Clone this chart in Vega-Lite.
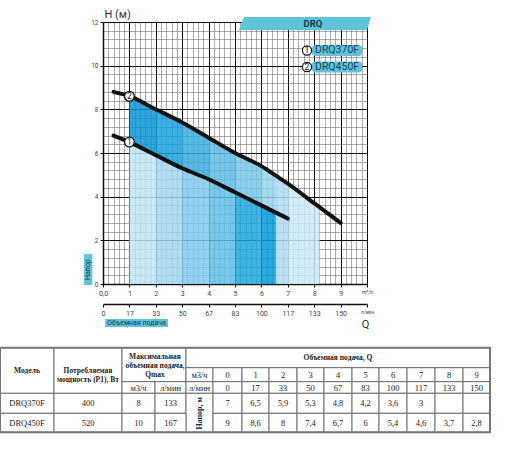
{
  "$schema": "https://vega.github.io/schema/vega-lite/v6.json",
  "width": 264,
  "height": 262,
  "autosize": {"type": "none"},
  "padding": {"left": 103, "top": 22, "right": 145, "bottom": 168},
  "background": "white",
  "config": {"view": {"stroke": null}, "text": {"font": "Roboto"}},
  "datasets": {
    "curves": [
      {"model": "DRQ370F", "q": 0.4, "h": 6.8},
      {"model": "DRQ370F", "q": 1, "h": 6.5},
      {"model": "DRQ370F", "q": 2, "h": 5.9},
      {"model": "DRQ370F", "q": 3, "h": 5.3},
      {"model": "DRQ370F", "q": 4, "h": 4.8},
      {"model": "DRQ370F", "q": 5, "h": 4.2},
      {"model": "DRQ370F", "q": 6, "h": 3.6},
      {"model": "DRQ370F", "q": 6.55, "h": 3.27},
      {"model": "DRQ370F", "q": 7, "h": 3},
      {"model": "DRQ450F", "q": 0.4, "h": 8.8},
      {"model": "DRQ450F", "q": 1, "h": 8.6},
      {"model": "DRQ450F", "q": 2, "h": 8},
      {"model": "DRQ450F", "q": 3, "h": 7.4},
      {"model": "DRQ450F", "q": 4, "h": 6.7},
      {"model": "DRQ450F", "q": 5, "h": 6},
      {"model": "DRQ450F", "q": 6, "h": 5.4},
      {"model": "DRQ450F", "q": 6.55, "h": 4.96},
      {"model": "DRQ450F", "q": 7, "h": 4.6},
      {"model": "DRQ450F", "q": 8, "h": 3.7},
      {"model": "DRQ450F", "q": 8.2, "h": 3.52},
      {"model": "DRQ450F", "q": 9, "h": 2.8}
    ],
    "models": [
      {"model": "DRQ370F", "num": "1"},
      {"model": "DRQ450F", "num": "2"}
    ],
    "labels": [
      {"id": "series", "t": "DRQ"},
      {"id": "ytitle", "t": "Напор"},
      {"id": "xtitle", "t": "Объемная подача"}
    ],
    "cells": [
      {"c0": 0, "c1": 1, "r0": 0, "r1": 3, "x": 0.5, "y": 1.2, "t": "Модель", "k": "h"},
      {"c0": 1, "c1": 2, "r0": 0, "r1": 3, "x": 1.5, "y": 1.2, "t": "Потребляемая\nмощность (P1), Вт", "k": "h"},
      {"c0": 2, "c1": 4, "r0": 0, "r1": 2, "x": 3, "y": 0.45, "t": "Максимальная\nобъемная подача,\nQmax", "k": "h"},
      {"c0": 4, "c1": 15, "r0": 0, "r1": 1, "x": 9.5, "y": 0.5, "t": "Объемная подача, Q", "k": "h"},
      {"c0": 2, "c1": 3, "r0": 2, "r1": 3, "x": 2.5, "y": 2.5, "t": "м3/ч", "k": "v"},
      {"c0": 3, "c1": 4, "r0": 2, "r1": 3, "x": 3.5, "y": 2.5, "t": "л/мин", "k": "v"},
      {"c0": 4, "c1": 5, "r0": 1, "r1": 2, "x": 4.5, "y": 1.5, "t": "м3/ч", "k": "v"},
      {"c0": 4, "c1": 5, "r0": 2, "r1": 3, "x": 4.5, "y": 2.5, "t": "л/мин", "k": "v"},
      {"c0": 5, "c1": 6, "r0": 1, "r1": 2, "x": 5.5, "y": 1.5, "t": "0", "k": "v"},
      {"c0": 6, "c1": 7, "r0": 1, "r1": 2, "x": 6.5, "y": 1.5, "t": "1", "k": "v"},
      {"c0": 7, "c1": 8, "r0": 1, "r1": 2, "x": 7.5, "y": 1.5, "t": "2", "k": "v"},
      {"c0": 8, "c1": 9, "r0": 1, "r1": 2, "x": 8.5, "y": 1.5, "t": "3", "k": "v"},
      {"c0": 9, "c1": 10, "r0": 1, "r1": 2, "x": 9.5, "y": 1.5, "t": "4", "k": "v"},
      {"c0": 10, "c1": 11, "r0": 1, "r1": 2, "x": 10.5, "y": 1.5, "t": "5", "k": "v"},
      {"c0": 11, "c1": 12, "r0": 1, "r1": 2, "x": 11.5, "y": 1.5, "t": "6", "k": "v"},
      {"c0": 12, "c1": 13, "r0": 1, "r1": 2, "x": 12.5, "y": 1.5, "t": "7", "k": "v"},
      {"c0": 13, "c1": 14, "r0": 1, "r1": 2, "x": 13.5, "y": 1.5, "t": "8", "k": "v"},
      {"c0": 14, "c1": 15, "r0": 1, "r1": 2, "x": 14.5, "y": 1.5, "t": "9", "k": "v"},
      {"c0": 5, "c1": 6, "r0": 2, "r1": 3, "x": 5.5, "y": 2.5, "t": "0", "k": "v"},
      {"c0": 6, "c1": 7, "r0": 2, "r1": 3, "x": 6.5, "y": 2.5, "t": "17", "k": "v"},
      {"c0": 7, "c1": 8, "r0": 2, "r1": 3, "x": 7.5, "y": 2.5, "t": "33", "k": "v"},
      {"c0": 8, "c1": 9, "r0": 2, "r1": 3, "x": 8.5, "y": 2.5, "t": "50", "k": "v"},
      {"c0": 9, "c1": 10, "r0": 2, "r1": 3, "x": 9.5, "y": 2.5, "t": "67", "k": "v"},
      {"c0": 10, "c1": 11, "r0": 2, "r1": 3, "x": 10.5, "y": 2.5, "t": "83", "k": "v"},
      {"c0": 11, "c1": 12, "r0": 2, "r1": 3, "x": 11.5, "y": 2.5, "t": "100", "k": "v"},
      {"c0": 12, "c1": 13, "r0": 2, "r1": 3, "x": 12.5, "y": 2.5, "t": "117", "k": "v"},
      {"c0": 13, "c1": 14, "r0": 2, "r1": 3, "x": 13.5, "y": 2.5, "t": "133", "k": "v"},
      {"c0": 14, "c1": 15, "r0": 2, "r1": 3, "x": 14.5, "y": 2.5, "t": "150", "k": "v"},
      {"c0": 0, "c1": 1, "r0": 3, "r1": 4, "x": 0.5, "y": 3.5, "t": "DRQ370F", "k": "v"},
      {"c0": 1, "c1": 2, "r0": 3, "r1": 4, "x": 1.5, "y": 3.5, "t": "400", "k": "v"},
      {"c0": 2, "c1": 3, "r0": 3, "r1": 4, "x": 2.5, "y": 3.5, "t": "8", "k": "v"},
      {"c0": 3, "c1": 4, "r0": 3, "r1": 4, "x": 3.5, "y": 3.5, "t": "133", "k": "v"},
      {"c0": 4, "c1": 5, "r0": 3, "r1": 5, "x": 4.5, "y": 4, "t": "Напор, м", "k": "r"},
      {"c0": 5, "c1": 6, "r0": 3, "r1": 4, "x": 5.5, "y": 3.5, "t": "7", "k": "v"},
      {"c0": 6, "c1": 7, "r0": 3, "r1": 4, "x": 6.5, "y": 3.5, "t": "6,5", "k": "v"},
      {"c0": 7, "c1": 8, "r0": 3, "r1": 4, "x": 7.5, "y": 3.5, "t": "5,9", "k": "v"},
      {"c0": 8, "c1": 9, "r0": 3, "r1": 4, "x": 8.5, "y": 3.5, "t": "5,3", "k": "v"},
      {"c0": 9, "c1": 10, "r0": 3, "r1": 4, "x": 9.5, "y": 3.5, "t": "4,8", "k": "v"},
      {"c0": 10, "c1": 11, "r0": 3, "r1": 4, "x": 10.5, "y": 3.5, "t": "4,2", "k": "v"},
      {"c0": 11, "c1": 12, "r0": 3, "r1": 4, "x": 11.5, "y": 3.5, "t": "3,6", "k": "v"},
      {"c0": 12, "c1": 13, "r0": 3, "r1": 4, "x": 12.5, "y": 3.5, "t": "3", "k": "v"},
      {"c0": 13, "c1": 14, "r0": 3, "r1": 4, "x": 13.5, "y": 3.5, "t": "", "k": "v"},
      {"c0": 14, "c1": 15, "r0": 3, "r1": 4, "x": 14.5, "y": 3.5, "t": "", "k": "v"},
      {"c0": 0, "c1": 1, "r0": 4, "r1": 5, "x": 0.5, "y": 4.5, "t": "DRQ450F", "k": "v"},
      {"c0": 1, "c1": 2, "r0": 4, "r1": 5, "x": 1.5, "y": 4.5, "t": "520", "k": "v"},
      {"c0": 2, "c1": 3, "r0": 4, "r1": 5, "x": 2.5, "y": 4.5, "t": "10", "k": "v"},
      {"c0": 3, "c1": 4, "r0": 4, "r1": 5, "x": 3.5, "y": 4.5, "t": "167", "k": "v"},
      {"c0": 5, "c1": 6, "r0": 4, "r1": 5, "x": 5.5, "y": 4.5, "t": "9", "k": "v"},
      {"c0": 6, "c1": 7, "r0": 4, "r1": 5, "x": 6.5, "y": 4.5, "t": "8,6", "k": "v"},
      {"c0": 7, "c1": 8, "r0": 4, "r1": 5, "x": 7.5, "y": 4.5, "t": "8", "k": "v"},
      {"c0": 8, "c1": 9, "r0": 4, "r1": 5, "x": 8.5, "y": 4.5, "t": "7,4", "k": "v"},
      {"c0": 9, "c1": 10, "r0": 4, "r1": 5, "x": 9.5, "y": 4.5, "t": "6,7", "k": "v"},
      {"c0": 10, "c1": 11, "r0": 4, "r1": 5, "x": 10.5, "y": 4.5, "t": "6", "k": "v"},
      {"c0": 11, "c1": 12, "r0": 4, "r1": 5, "x": 11.5, "y": 4.5, "t": "5,4", "k": "v"},
      {"c0": 12, "c1": 13, "r0": 4, "r1": 5, "x": 12.5, "y": 4.5, "t": "4,6", "k": "v"},
      {"c0": 13, "c1": 14, "r0": 4, "r1": 5, "x": 13.5, "y": 4.5, "t": "3,7", "k": "v"},
      {"c0": 14, "c1": 15, "r0": 4, "r1": 5, "x": 14.5, "y": 4.5, "t": "2,8", "k": "v"}
    ]
  },
  "layer": [
    {
      "resolve": {"axis": {"x": "independent", "y": "independent"}},
      "layer": [
        {
          "data": {"name": "curves"},
          "transform": [{"filter": "datum.model == 'DRQ370F' && datum.q >= 1 && datum.q <= 6.55"}],
          "mark": {
            "type": "area",
            "interpolate": "monotone",
            "fillOpacity": 0.85,
            "fill": {
              "gradient": "linear", "x1": 0, "y1": 0, "x2": 1, "y2": 0,
              "stops": [
                {"offset": 0, "color": "#bee4f4"}, {"offset": 0.1802, "color": "#bee4f4"},
                {"offset": 0.1802, "color": "#a1d6ee"}, {"offset": 0.3604, "color": "#a1d6ee"},
                {"offset": 0.3604, "color": "#81caeb"}, {"offset": 0.5405, "color": "#81caeb"},
                {"offset": 0.5405, "color": "#61bee6"}, {"offset": 0.7207, "color": "#61bee6"},
                {"offset": 0.7207, "color": "#1da7dd"}, {"offset": 0.9009, "color": "#1da7dd"},
                {"offset": 0.9009, "color": "#0499d7"}, {"offset": 1, "color": "#0499d7"}
              ]
            }
          },
          "encoding": {
            "x": {
              "field": "q", "type": "quantitative",
              "scale": {"domain": [0, 10], "nice": false, "zero": false},
              "axis": {
                "orient": "bottom", "title": null,
                "values": [0,0.2,0.4,0.6,0.8,1,1.2,1.4,1.6,1.8,2,2.2,2.4,2.6,2.8,3,3.2,3.4,3.6,3.8,4,4.2,4.4,4.6,4.8,5,5.2,5.4,5.6,5.8,6,6.2,6.4,6.6,6.8,7,7.2,7.4,7.6,7.8,8,8.2,8.4,8.6,8.8,9,9.2,9.4,9.6,9.8,10],
                "labelExpr": "datum.value == 0 ? '0,0' : datum.value == 10 ? 'm³/h' : datum.value % 1 == 0 ? datum.value + '' : ''",
                "labelFont": "Roboto", "labelColor": "#444",
                "labelFontSize": {"condition": {"test": "datum.value == 10", "value": 5}, "value": 7},
                "labelPadding": 2, "labelOverlap": false, "labelFlush": false, "labelBound": false,
                "tickSize": {"condition": {"test": "datum.value % 1 == 0", "value": 3}, "value": 0},
                "tickColor": "#111",
                "domainColor": "#111", "domainWidth": 1.5,
                "grid": true, "gridOpacity": 1,
                "gridColor": {"condition": {"test": "datum.value % 1 == 0", "value": "#111"}, "value": "#666"},
                "gridWidth": {"condition": {"test": "datum.value % 1 == 0", "value": 1}, "value": 0.55}
              }
            },
            "y": {
              "field": "h", "type": "quantitative",
              "scale": {"domain": [0, 12], "nice": false, "zero": false},
              "axis": {
                "orient": "left",
                "title": "H (м)", "titleAngle": 0, "titleAlign": "left", "titleBaseline": "alphabetic",
                "titleX": 1, "titleY": -5, "titleFont": "Roboto", "titleFontSize": 11,
                "titleFontWeight": "normal", "titleColor": "#333",
                "values": [0,0.4,0.8,1.2,1.6,2,2.4,2.8,3.2,3.6,4,4.4,4.8,5.2,5.6,6,6.4,6.8,7.2,7.6,8,8.4,8.8,9.2,9.6,10,10.4,10.8,11.2,11.6,12],
                "labelExpr": "datum.value % 2 == 0 ? datum.value + '' : ''",
                "labelFont": "Roboto", "labelFontSize": 6.5, "labelColor": "#444",
                "labelPadding": 2, "labelOverlap": false, "labelFlush": false,
                "tickSize": {"condition": {"test": "datum.value % 2 == 0", "value": 3}, "value": 0},
                "tickColor": "#111",
                "domainColor": "#111", "domainWidth": 1.5,
                "grid": true, "gridOpacity": 1,
                "gridColor": {"condition": {"test": "datum.value % 2 == 0", "value": "#111"}, "value": "#666"},
                "gridWidth": {"condition": {"test": "datum.value % 2 == 0", "value": 1}, "value": 0.55}
              }
            },
            "y2": {"datum": 0}
          }
        },
        {
          "data": {"name": "curves"},
          "transform": [
            {"filter": "datum.q >= 1 && datum.q <= 6.55"},
            {"pivot": "model", "value": "h", "groupby": ["q"]}
          ],
          "mark": {
            "type": "area",
            "interpolate": "monotone",
            "fillOpacity": 0.85,
            "fill": {
              "gradient": "linear", "x1": 0, "y1": 0, "x2": 1, "y2": 0,
              "stops": [
                {"offset": 0, "color": "#0a93d3"}, {"offset": 0.1802, "color": "#0a93d3"},
                {"offset": 0.1802, "color": "#17a0db"}, {"offset": 0.3604, "color": "#17a0db"},
                {"offset": 0.3604, "color": "#39adde"}, {"offset": 0.5405, "color": "#39adde"},
                {"offset": 0.5405, "color": "#5dbbe4"}, {"offset": 0.7207, "color": "#5dbbe4"},
                {"offset": 0.7207, "color": "#78c7e9"}, {"offset": 0.9009, "color": "#78c7e9"},
                {"offset": 0.9009, "color": "#95d2ed"}, {"offset": 1, "color": "#95d2ed"}
              ]
            }
          },
          "encoding": {
            "x": {"field": "q", "type": "quantitative", "axis": null},
            "y": {"field": "DRQ450F", "type": "quantitative", "axis": null},
            "y2": {"field": "DRQ370F"}
          }
        },
        {
          "data": {"name": "curves"},
          "transform": [{"filter": "datum.model == 'DRQ450F' && datum.q >= 6.55 && datum.q <= 8.2"}],
          "mark": {
            "type": "area",
            "interpolate": "monotone",
            "fillOpacity": 0.85,
            "fill": {
              "gradient": "linear", "x1": 0, "y1": 0, "x2": 1, "y2": 0,
              "stops": [
                {"offset": 0, "color": "#addcf1"}, {"offset": 0.2727, "color": "#addcf1"},
                {"offset": 0.2727, "color": "#caeaf7"}, {"offset": 1, "color": "#caeaf7"}
              ]
            }
          },
          "encoding": {
            "x": {"field": "q", "type": "quantitative", "axis": null},
            "y": {"field": "h", "type": "quantitative", "axis": null},
            "y2": {"datum": 0}
          }
        },
        {
          "data": {"name": "curves"},
          "mark": {"type": "line", "interpolate": "monotone", "color": "#111", "strokeWidth": 4, "strokeCap": "round"},
          "encoding": {
            "x": {
              "field": "q", "type": "quantitative",
              "axis": {
                "orient": "bottom", "offset": 20,
                "title": "Q", "titleX": 262, "titleY": 23, "titleAlign": "center", "titleBaseline": "alphabetic",
                "titleFont": "Roboto", "titleFontSize": 11, "titleFontWeight": "normal", "titleColor": "#333",
                "values": [0,1,2,3,4,5,6,7,8,9,10],
                "labelExpr": "['0','17','33','50','67','83','100','117','133','150','л/мин'][datum.value]",
                "labelFont": "Roboto", "labelColor": "#444",
                "labelFontSize": {"condition": {"test": "datum.value == 10", "value": 4.5}, "value": 7},
                "labelPadding": 2, "labelOverlap": false, "labelFlush": false, "labelBound": false,
                "tickSize": 3, "tickColor": "#111",
                "domainColor": "#111", "domainWidth": 1.5,
                "grid": false
              }
            },
            "y": {"field": "h", "type": "quantitative", "axis": null},
            "detail": {"field": "model"}
          }
        },
        {
          "data": {"name": "curves"},
          "transform": [
            {"filter": "datum.q == 1"},
            {"lookup": "model", "from": {"data": {"name": "models"}, "key": "model", "fields": ["num"]}}
          ],
          "mark": {"type": "circle", "size": 95, "fill": "white", "stroke": "#111", "strokeWidth": 1.3, "opacity": 1},
          "encoding": {
            "x": {"field": "q", "type": "quantitative", "axis": null},
            "y": {"field": "h", "type": "quantitative", "axis": null}
          }
        },
        {
          "data": {"name": "curves"},
          "transform": [
            {"filter": "datum.q == 1"},
            {"lookup": "model", "from": {"data": {"name": "models"}, "key": "model", "fields": ["num"]}}
          ],
          "mark": {"type": "text", "font": "Roboto", "fontSize": 8.5, "color": "#111", "align": "center", "baseline": "middle"},
          "encoding": {
            "x": {"field": "q", "type": "quantitative", "axis": null},
            "y": {"field": "h", "type": "quantitative", "axis": null},
            "text": {"field": "num"}
          }
        },
        {
          "data": {"name": "models"},
          "transform": [{"filter": "datum.model == 'DRQ370F'"}],
          "mark": {"type": "rect", "fill": "#5ec4dc", "cornerRadius": 3},
          "encoding": {
            "x": {"datum": 7.917, "type": "quantitative", "axis": null},
            "x2": {"datum": 9.811},
            "y": {"datum": 10.947, "type": "quantitative", "axis": null},
            "y2": {"datum": 10.443}
          }
        },
        {
          "data": {"name": "models"},
          "transform": [{"filter": "datum.model == 'DRQ450F'"}],
          "mark": {"type": "rect", "fill": "#5ec4dc", "cornerRadius": 3},
          "encoding": {
            "x": {"datum": 7.917, "type": "quantitative", "axis": null},
            "x2": {"datum": 9.811},
            "y": {"datum": 10.19, "type": "quantitative", "axis": null},
            "y2": {"datum": 9.687}
          }
        },
        {
          "data": {"name": "models"},
          "transform": [{"filter": "datum.model == 'DRQ370F'"}],
          "mark": {"type": "text", "font": "Roboto", "fontSize": 10.5, "color": "#1e3f58", "align": "left", "baseline": "middle"},
          "encoding": {
            "x": {"datum": 8.03, "type": "quantitative", "axis": null},
            "y": {"datum": 10.695, "type": "quantitative", "axis": null},
            "text": {"field": "model"}
          }
        },
        {
          "data": {"name": "models"},
          "transform": [{"filter": "datum.model == 'DRQ450F'"}],
          "mark": {"type": "text", "font": "Roboto", "fontSize": 10.5, "color": "#1e3f58", "align": "left", "baseline": "middle"},
          "encoding": {
            "x": {"datum": 8.03, "type": "quantitative", "axis": null},
            "y": {"datum": 9.939, "type": "quantitative", "axis": null},
            "text": {"field": "model"}
          }
        },
        {
          "data": {"name": "models"},
          "transform": [{"filter": "datum.model == 'DRQ370F'"}],
          "mark": {"type": "circle", "size": 85, "fill": "white", "stroke": "#111", "strokeWidth": 1.2, "opacity": 1},
          "encoding": {
            "x": {"datum": 7.727, "type": "quantitative", "axis": null},
            "y": {"datum": 10.695, "type": "quantitative", "axis": null}
          }
        },
        {
          "data": {"name": "models"},
          "transform": [{"filter": "datum.model == 'DRQ450F'"}],
          "mark": {"type": "circle", "size": 85, "fill": "white", "stroke": "#111", "strokeWidth": 1.2, "opacity": 1},
          "encoding": {
            "x": {"datum": 7.727, "type": "quantitative", "axis": null},
            "y": {"datum": 9.939, "type": "quantitative", "axis": null}
          }
        },
        {
          "data": {"name": "models"},
          "transform": [{"filter": "datum.model == 'DRQ370F'"}],
          "mark": {"type": "text", "font": "Roboto", "fontSize": 8.5, "color": "#111", "align": "center", "baseline": "middle"},
          "encoding": {
            "x": {"datum": 7.727, "type": "quantitative", "axis": null},
            "y": {"datum": 10.695, "type": "quantitative", "axis": null},
            "text": {"field": "num"}
          }
        },
        {
          "data": {"name": "models"},
          "transform": [{"filter": "datum.model == 'DRQ450F'"}],
          "mark": {"type": "text", "font": "Roboto", "fontSize": 8.5, "color": "#111", "align": "center", "baseline": "middle"},
          "encoding": {
            "x": {"datum": 7.727, "type": "quantitative", "axis": null},
            "y": {"datum": 9.939, "type": "quantitative", "axis": null},
            "text": {"field": "num"}
          }
        },
        {
          "data": {"name": "labels"},
          "transform": [{"filter": "datum.id == 'series'"}],
          "mark": {
            "type": "point", "filled": true, "fill": "#5ec4dc", "strokeWidth": 0, "opacity": 1,
            "shape": "M -0.924 -0.098 L 1 -0.098 L 0.939 0.098 L -1 0.098 Z", "size": 17424
          },
          "encoding": {
            "x": {"datum": 7.652, "type": "quantitative", "axis": null},
            "y": {"datum": 11.93, "type": "quantitative", "axis": null}
          }
        },
        {
          "data": {"name": "labels"},
          "transform": [{"filter": "datum.id == 'series'"}],
          "mark": {"type": "text", "font": "Roboto", "fontSize": 9.5, "fontWeight": "bold", "color": "#1b3b4d", "align": "center", "baseline": "middle"},
          "encoding": {
            "x": {"datum": 7.955, "type": "quantitative", "axis": null},
            "y": {"datum": 11.91, "type": "quantitative", "axis": null},
            "text": {"field": "t"}
          }
        },
        {
          "data": {"name": "labels"},
          "transform": [{"filter": "datum.id == 'ytitle'"}],
          "mark": {"type": "rect", "fill": "#5ec4dc"},
          "encoding": {
            "x": {"datum": -0.72, "type": "quantitative", "axis": null},
            "x2": {"datum": -0.405},
            "y": {"datum": 1.37, "type": "quantitative", "axis": null},
            "y2": {"datum": -0.05}
          }
        },
        {
          "data": {"name": "labels"},
          "transform": [{"filter": "datum.id == 'ytitle'"}],
          "mark": {"type": "text", "font": "Roboto", "fontSize": 7, "color": "#1b3b4d", "align": "center", "baseline": "middle", "angle": 270},
          "encoding": {
            "x": {"datum": -0.5625, "type": "quantitative", "axis": null},
            "y": {"datum": 0.66, "type": "quantitative", "axis": null},
            "text": {"field": "t"}
          }
        },
        {
          "data": {"name": "labels"},
          "transform": [{"filter": "datum.id == 'xtitle'"}],
          "mark": {"type": "rect", "fill": "#5ec4dc"},
          "encoding": {
            "x": {"datum": 0.08, "type": "quantitative", "axis": null},
            "x2": {"datum": 2.46},
            "y": {"datum": -1.6, "type": "quantitative", "axis": null},
            "y2": {"datum": -1.97}
          }
        },
        {
          "data": {"name": "labels"},
          "transform": [{"filter": "datum.id == 'xtitle'"}],
          "mark": {"type": "text", "font": "Roboto", "fontSize": 7, "color": "#1b3b4d", "align": "center", "baseline": "middle"},
          "encoding": {
            "x": {"datum": 1.27, "type": "quantitative", "axis": null},
            "y": {"datum": -1.785, "type": "quantitative", "axis": null},
            "text": {"field": "t"}
          }
        }
      ]
    },
    {
      "layer": [
        {
          "data": {"name": "cells"},
          "mark": {"type": "rect", "fill": "white", "stroke": "#6e6e6e", "strokeWidth": 1},
          "encoding": {
            "x": {
              "field": "c0", "type": "quantitative", "axis": null,
              "scale": {
                "domain": [0,1,2,3,4,5,6,7,8,9,10,11,12,13,14,15],
                "range": [-103,-49,19,52,83,110,139,166,194,221,249,276,304,332,360,387],
                "nice": false, "zero": false
              }
            },
            "x2": {"field": "c1"},
            "y": {
              "field": "r0", "type": "quantitative", "axis": null,
              "scale": {
                "domain": [0,1,2,3,4,5],
                "range": [325.7,345.7,359.7,371.3,391.3,410.3],
                "nice": false, "zero": false
              }
            },
            "y2": {"field": "r1"}
          }
        },
        {
          "data": {"name": "cells"},
          "transform": [
            {"aggregate": [
              {"op": "min", "field": "c0", "as": "c0"},
              {"op": "max", "field": "c1", "as": "c1"},
              {"op": "min", "field": "r0", "as": "r0"},
              {"op": "max", "field": "r1", "as": "r1"}
            ]}
          ],
          "mark": {"type": "rect", "fillOpacity": 0, "stroke": "#777", "strokeWidth": 2},
          "encoding": {
            "x": {"field": "c0", "type": "quantitative", "axis": null},
            "x2": {"field": "c1"},
            "y": {"field": "r0", "type": "quantitative", "axis": null},
            "y2": {"field": "r1"}
          }
        },
        {
          "data": {"name": "cells"},
          "transform": [{"filter": "datum.k == 'h'"}],
          "mark": {"type": "text", "font": "Liberation Serif", "fontSize": 7.5, "fontWeight": "bold", "color": "#222", "align": "center", "baseline": "middle", "lineBreak": "\n", "lineHeight": 9},
          "encoding": {
            "x": {"field": "x", "type": "quantitative", "axis": null},
            "y": {"field": "y", "type": "quantitative", "axis": null},
            "text": {"field": "t"}
          }
        },
        {
          "data": {"name": "cells"},
          "transform": [{"filter": "datum.k == 'v'"}],
          "mark": {"type": "text", "font": "Liberation Serif", "fontSize": 8.5, "color": "#222", "align": "center", "baseline": "middle"},
          "encoding": {
            "x": {"field": "x", "type": "quantitative", "axis": null},
            "y": {"field": "y", "type": "quantitative", "axis": null},
            "text": {"field": "t"}
          }
        },
        {
          "data": {"name": "cells"},
          "transform": [{"filter": "datum.k == 'r'"}],
          "mark": {"type": "text", "font": "Liberation Serif", "fontSize": 8, "fontWeight": "bold", "color": "#222", "align": "center", "baseline": "middle", "angle": 270},
          "encoding": {
            "x": {"field": "x", "type": "quantitative", "axis": null},
            "y": {"field": "y", "type": "quantitative", "axis": null},
            "text": {"field": "t"}
          }
        }
      ]
    }
  ],
  "resolve": {"scale": {"x": "independent", "y": "independent"}}
}
